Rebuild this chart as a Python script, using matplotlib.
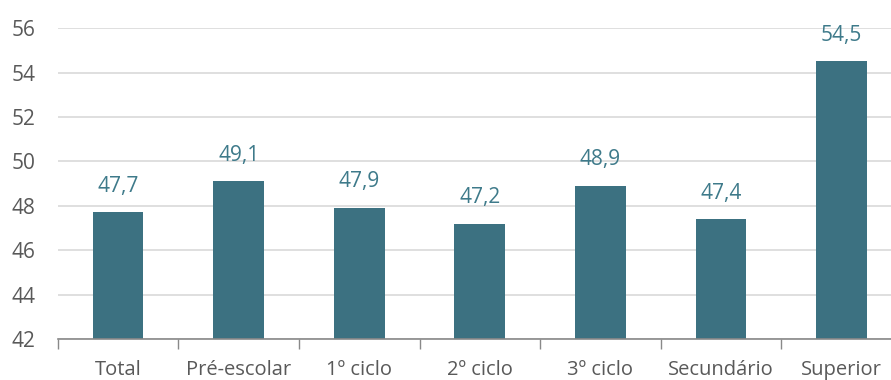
import matplotlib.pyplot as plt
import numpy as np

# Data
categories = ['Total', 'Pré-escolar', '1º ciclo', '2º ciclo', '3º ciclo', 'Secundário', 'Superior']
values = [47.7, 49.1, 47.9, 47.2, 48.9, 47.4, 54.5]
y_ticks = [42, 44, 46, 48, 50, 52, 54, 56]

bar_color = '#3c7181'
label_color = '#3e7a8a'
text_color = '#595959'

plt.rcParams['font.family'] = ['Open Sans', 'DejaVu Sans']

fig = plt.figure(figsize=(8.91, 3.80), dpi=100)
ax = fig.add_axes([0.065, 0.108, 0.947, 0.818])

x = np.arange(len(categories))
ax.bar(x, [v - 42 for v in values], bottom=42, width=0.42, color=bar_color, zorder=3)

for xi, v in zip(x, values):
    ax.text(xi, v + 0.7, f'{v:.1f}'.replace('.', ','), ha='center', va='bottom',
            fontsize=15, color=label_color, zorder=4)

ax.set_ylim(42, 56)
ax.set_xlim(-0.5, len(categories) - 0.5)
ax.set_yticks(y_ticks)
ax.set_yticklabels([str(t) for t in y_ticks])
ax.yaxis.grid(True, color='#d9d9d9', linewidth=1.2, zorder=0)
ax.set_axisbelow(True)

# category ticks sit between the bars
ax.set_xticks(x)
ax.set_xticklabels(categories)
ax.set_xticks(np.arange(-0.5, len(categories), 1.0), minor=True)
ax.tick_params(axis='x', which='major', length=0, pad=15, labelsize=14.5, labelcolor=text_color)
ax.tick_params(axis='x', which='minor', length=7, width=1, color='#898989')
ax.tick_params(axis='y', length=0, pad=16, labelsize=15, labelcolor=text_color)

for s in ['top', 'right', 'left']:
    ax.spines[s].set_visible(False)
ax.spines['bottom'].set_color('#898989')
ax.spines['bottom'].set_linewidth(1.2)
ax.spines['bottom'].set_zorder(5)

fig.savefig('out.png', dpi=100)
